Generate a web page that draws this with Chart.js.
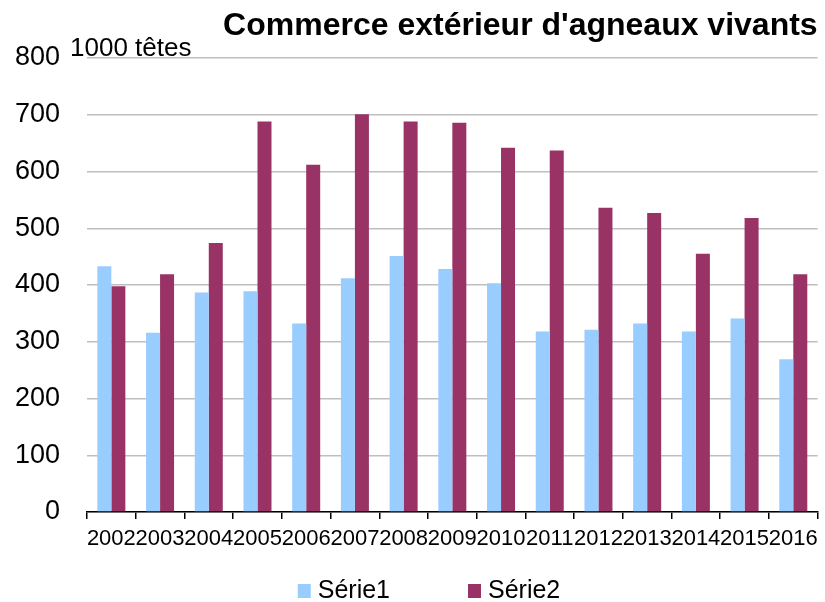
<!DOCTYPE html>
<html>
<head>
<meta charset="utf-8">
<script src="https://cdn.jsdelivr.net/npm/chart.js@4/dist/chart.umd.min.js"></script>
<style>
  html, body { margin: 0; padding: 0; background: #fff; }
  #wrap { width: 825px; height: 602px; position: relative; }
</style>
</head>
<body>
<div id="wrap"><canvas id="agneaux"></canvas></div>
<script>
const years = ["2002", "2003", "2004", "2005", "2006", "2007", "2008", "2009",
	"2010", "2011", "2012", "2013", "2014", "2015", "2016"];
const serie1 = [433, 316, 387, 389, 332, 412, 451, 428, 403, 318, 321, 332, 318, 341, 269];
const serie2 = [398, 419, 474, 688, 612, 701, 688, 686, 642, 637, 536, 527, 455, 518, 419];
const yTicks = [0, 100, 200, 300, 400, 500, 600, 700, 800];

const titleText = "Commerce extérieur d'agneaux vivants";
const unitText = "1000 têtes";
const FONT = "'Liberation Sans', Arial, sans-serif";

// titre, unité et légende dessinés à la main
const decorPlugin = {
	id: "decor",
	afterDraw(chart) {
		const ctx = chart.ctx;
		const area = chart.chartArea;
		ctx.save();
		ctx.fillStyle = "#000";
		ctx.textBaseline = "alphabetic";

		ctx.font = "bold 32px " + FONT;
		ctx.textAlign = "right";
		ctx.fillText(titleText, area.right, 35);

		ctx.font = "26px " + FONT;
		ctx.textAlign = "left";
		ctx.fillText(unitText, 70, 56);

		// légende
		ctx.font = "25px " + FONT;
		const boxW = 13;
		const boxH = 14;
		const gap = 7;
		const spacing = 78;
		const items = chart.data.datasets.map((ds) => ({
			label: ds.label,
			color: ds.backgroundColor,
			w: boxW + gap + ctx.measureText(ds.label).width,
		}));
		let total = items.reduce((s, it) => s + it.w, 0) + spacing * (items.length - 1);
		let x = 429 - total / 2;
		const yMid = 591;
		items.forEach((it) => {
			ctx.fillStyle = it.color;
			ctx.fillRect(x, yMid - boxH / 2, boxW, boxH);
			ctx.fillStyle = "#000";
			ctx.textBaseline = "middle";
			ctx.fillText(it.label, x + boxW + gap, yMid);
			x += it.w + spacing;
		});
		ctx.restore();
	},
};

const ctx = document.getElementById("agneaux").getContext("2d");
new Chart(ctx, {
	type: "bar",
	data: {
		labels: years,
		datasets: [
			{
				label: "Série1",
				data: serie1,
				backgroundColor: "#99ccff",
				categoryPercentage: 0.575,
				barPercentage: 1,
			},
			{
				label: "Série2",
				data: serie2,
				backgroundColor: "#993366",
				categoryPercentage: 0.575,
				barPercentage: 1,
			},
		],
	},
	options: {
		responsive: true,
		maintainAspectRatio: false,
		animation: false,
		layout: {
			padding: { top: 58, left: 0, right: 7, bottom: 0 },
		},
		plugins: {
			legend: { display: false },
			title: { display: false },
			tooltip: { enabled: false },
		},
		scales: {
			x: {
				afterFit(scale) {
					scale.height = 90;
				},
				grid: {
					display: true,
					offset: true,
					drawOnChartArea: false,
					drawTicks: true,
					tickLength: 7,
					color: "#000",
					lineWidth: 1.5,
				},
				border: { display: true, color: "#000", width: 1.5 },
				ticks: {
					color: "#000",
					font: { family: FONT, size: 22 },
					padding: 7,
					maxRotation: 0,
					autoSkip: false,
				},
			},
			y: {
				min: 0,
				max: 800,
				afterFit(scale) {
					scale.width = 87;
				},
				afterBuildTicks(scale) {
					scale.ticks = yTicks.map((v) => ({ value: v }));
				},
				grid: {
					color: "#bfbfbf",
					lineWidth: 1.5,
					drawTicks: false,
				},
				border: { display: false },
				ticks: {
					color: "#000",
					font: { family: FONT, size: 27 },
					padding: 27,
				},
			},
		},
	},
	plugins: [decorPlugin],
});
</script>
</body>
</html>
